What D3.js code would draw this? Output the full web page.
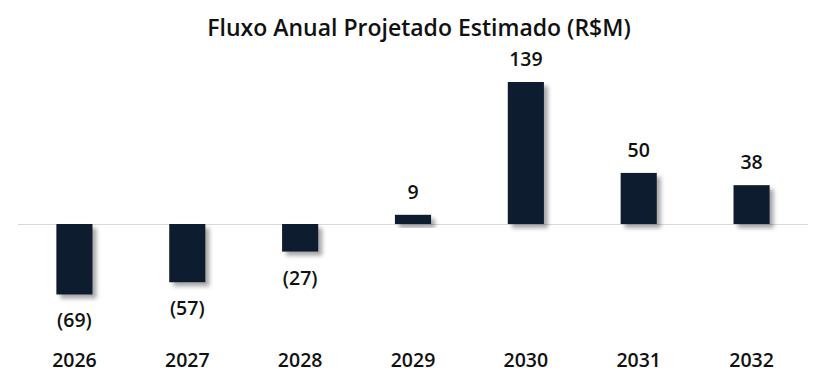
<!DOCTYPE html>
<html><head><meta charset="utf-8">
<script src="https://cdn.jsdelivr.net/npm/d3@7/dist/d3.min.js"></script>
<style>body{margin:0;background:#fff}svg{display:block}text{font-family:"Open Sans",sans-serif;fill:#111}</style>
</head><body>
<script>
const categories = ["2026","2027","2028","2029","2030","2031","2032"];
const values = [-69,-57,-27,9,139,50,38];
const valueLabels = ["(69)","(57)","(27)","9","139","50","38"];
const title = "Fluxo Anual Projetado Estimado (R$M)";

const W=839,H=392;
const svg=d3.select("body").append("svg").attr("width",W).attr("height",H);
const defs=svg.append("defs");
const f=defs.append("filter").attr("id","sh").attr("x","-30%").attr("y","-30%").attr("width","170%").attr("height","170%");
f.append("feDropShadow").attr("dx",4).attr("dy",4).attr("stdDeviation",2.2).attr("flood-color","#000").attr("flood-opacity",0.35);

const x=d3.scaleBand().domain(categories).range([18,808]).paddingInner(0.68).paddingOuter(0.34);
const y=d3.scaleLinear().domain([0,139]).range([224,82]);

svg.append("text").attr("x",419).attr("y",36).attr("text-anchor","middle").attr("font-size",23).attr("font-weight",600).text(title);

svg.append("line").attr("x1",18).attr("x2",808).attr("y1",y(0)+0.5).attr("y2",y(0)+0.5).attr("stroke","#d9d9d9").attr("stroke-width",1);

svg.selectAll("rect.b").data(values).join("rect").attr("class","b")
 .attr("x",(d,i)=>x(categories[i])).attr("width",x.bandwidth())
 .attr("y",d=>Math.min(y(d),y(0))).attr("height",d=>Math.abs(y(d)-y(0)))
 .attr("fill","#111a2e").attr("filter","url(#sh)");

svg.selectAll("text.v").data(values).join("text").attr("class","v")
 .attr("x",(d,i)=>x(categories[i])+x.bandwidth()/2)
 .attr("y",d=>d>=0? y(d)-16 : y(d)+33)
 .attr("text-anchor","middle").attr("font-size",19.5).attr("font-weight",600)
 .text((d,i)=>valueLabels[i]);

const ax=d3.axisBottom(x).tickSize(0).tickPadding(0);
const g=svg.append("g").attr("transform","translate(0,360)").call(ax);
g.select(".domain").remove();
g.selectAll("text").attr("font-size",19.5).attr("font-weight",600).attr("fill","#111").style("font-family","'Open Sans',sans-serif").attr("dy","0.35em");
</script>
</body></html>
